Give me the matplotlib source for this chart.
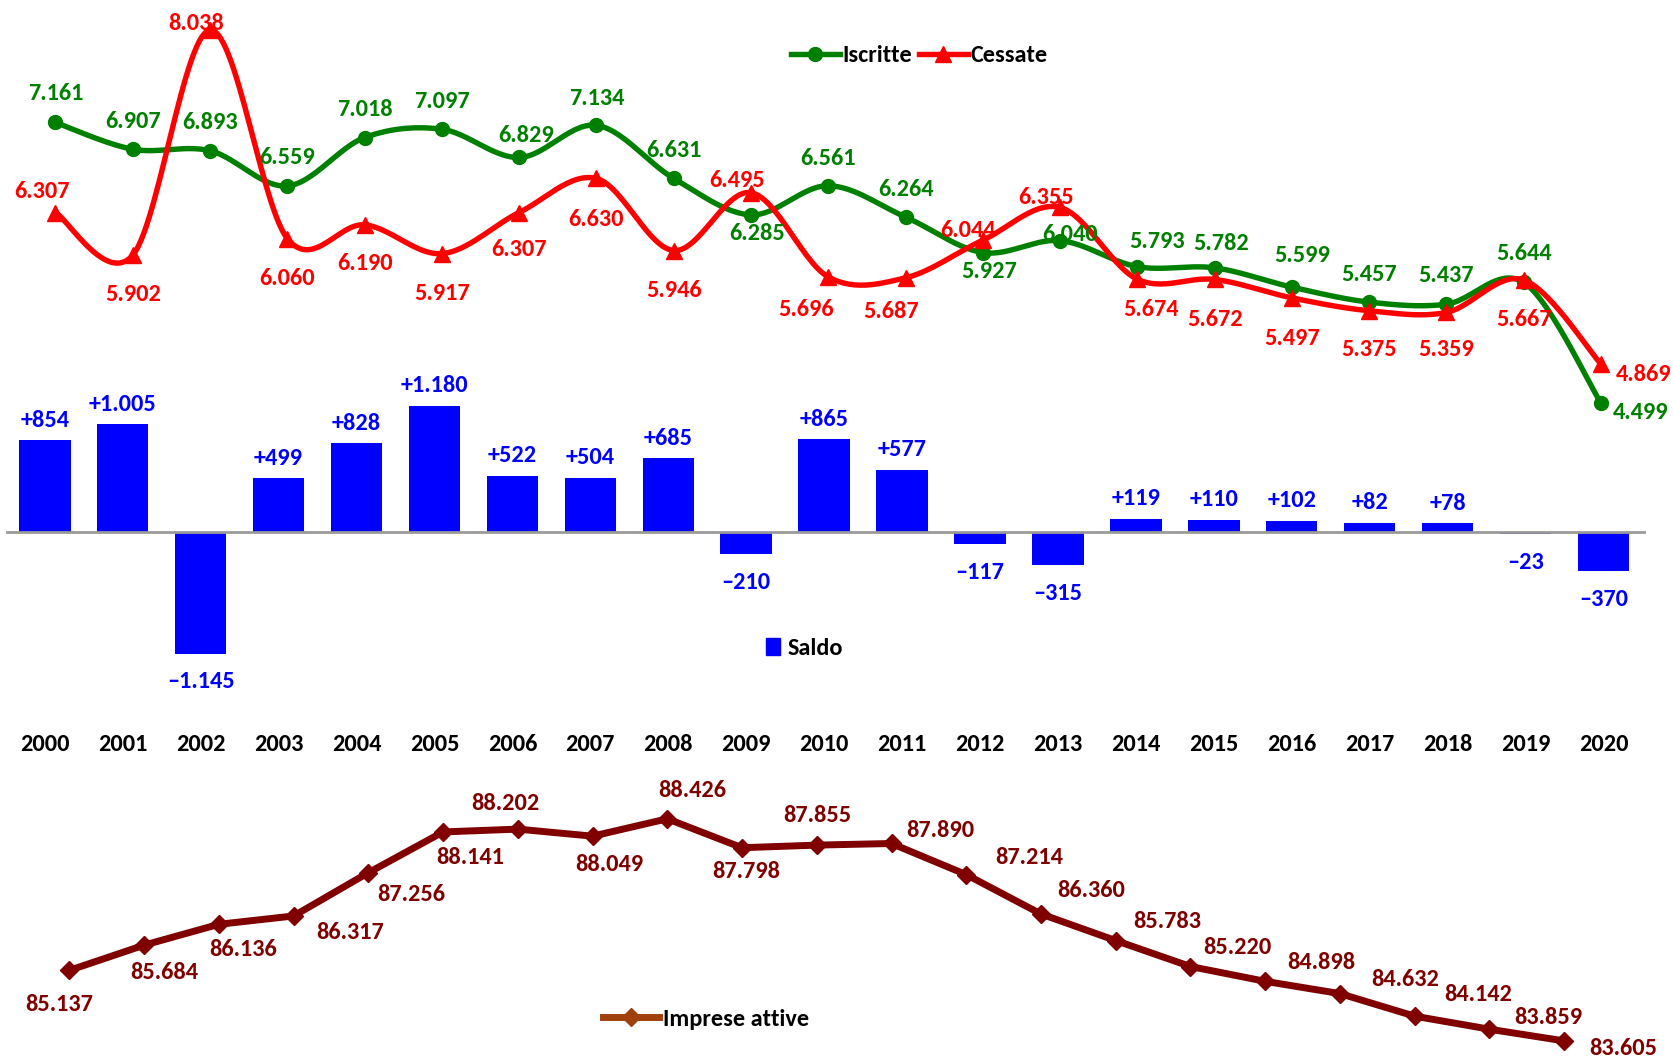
"""Iscritte, cessate, saldo e imprese attive 2000-2020."""
import numpy as np
import matplotlib
matplotlib.use('Agg')
import matplotlib.pyplot as plt
from matplotlib import font_manager
from matplotlib.lines import Line2D
from matplotlib.patches import Patch

years = [str(y) for y in range(2000, 2021)]
iscritte = [7161, 6907, 6893, 6559, 7018, 7097, 6829, 7134, 6631, 6285,
            6561, 6264, 5927, 6040, 5793, 5782, 5599, 5457, 5437, 5644, 4499]
cessate = [6307, 5902, 8038, 6060, 6190, 5917, 6307, 6630, 5946, 6495,
           5696, 5687, 6044, 6355, 5674, 5672, 5497, 5375, 5359, 5667, 4869]
saldo = [854, 1005, -1145, 499, 828, 1180, 522, 504, 685, -210,
         865, 577, -117, -315, 119, 110, 102, 82, 78, -23, -370]
imprese_attive = [85137, 85684, 86136, 86317, 87256, 88141, 88202, 88049, 88426, 87798,
                  87855, 87890, 87214, 86360, 85783, 85220, 84898, 84632, 84142, 83859, 83605]

# data label offsets in pixels (dx, dy), placed by hand as in the original
isc_off = [(0, 29), (0, 28), (0, 28), (0, 28), (0, 28), (0, 28), (7, 22), (0, 27), (0, 28),
           (6, -19), (0, 27), (0, 28), (6, -19), (10, 6), (20, 25), (7, 24), (10, 32),
           (0, 28), (0, 29), (0, 29), (40, -9)]
ces_off = [(-13, 21), (0, -39), (-14, 7), (0, -40), (0, -39), (0, -40), (0, -37), (0, -41),
           (0, -40), (-14, 12), (-22, -33), (-14, -34), (-15, 10), (-14, 10), (14, -30),
           (1, -40), (0, -41), (0, -39), (0, -37), (0, -40), (43, -10)]
imp_off = [(-10, -34), (20, -27), (24, -25), (56, -17), (43, -22), (27, -26), (-12, 26),
           (17, -28), (25, 28), (4, -24), (1, 30), (49, 13), (63, 17), (50, 23), (52, 19),
           (47, 19), (56, 19), (65, 14), (64, 22), (59, 12), (59, -8)]

GREEN = '#008000'
RED = '#FF0000'
BLUE = '#0000FF'
MAROON = '#800000'

# the original uses Calibri bold: pick the closest sans we have
fonts = font_manager.fontManager.ttflist
names = {f.name for f in fonts}
FS = 15
STRETCH = 'normal'
FAMILY = 'Roboto'
for cand, size in [('Carlito', 17.5), ('Liberation Sans Narrow', 18.5),
                   ('Roboto Condensed', 17), ('Open Sans Condensed', 16.5)]:
    if cand in names:
        FAMILY, FS = cand, size
        break
else:
    if any(f.name == 'DejaVu Sans' and f.stretch == 'condensed' for f in fonts):
        FAMILY, FS, STRETCH = 'DejaVu Sans', 14, 'condensed'
FONT = [FAMILY, 'DejaVu Sans']

plt.rcParams['font.family'] = FONT
plt.rcParams['font.weight'] = 'bold'
plt.rcParams['font.stretch'] = STRETCH


def fmt(v, sign=False):
    s = f'{abs(v):,}'.replace(',', '.')
    if sign:
        return ('+' if v > 0 else '\u2013') + s
    return s


def smooth(vals, steps=30):
    # Catmull-Rom bezier through all points (Excel "smoothed line")
    x = np.arange(len(vals), dtype=float)
    y = np.asarray(vals, dtype=float)
    pts = np.column_stack([np.r_[x[0], x, x[-1]], np.r_[y[0], y, y[-1]]])
    t = np.linspace(0, 1, steps)[:, None]
    out = []
    for i in range(len(vals) - 1):
        p0, p3 = pts[i + 1], pts[i + 2]
        c1 = p0 + (p3 - pts[i]) / 6
        c2 = p3 - (pts[i + 3] - p0) / 6
        seg = (1 - t) ** 3 * p0 + 3 * (1 - t) ** 2 * t * c1 + 3 * (1 - t) * t ** 2 * c2 + t ** 3 * p3
        out.append(seg if i == 0 else seg[1:])
    out = np.vstack(out)
    return out[:, 0], out[:, 1]


def label(ax, x, y, text, off, color):
    ax.annotate(text, (x, y), xytext=off, textcoords='offset pixels',
                ha='center', va='center', color=color, fontsize=FS, fontweight='bold')


fig = plt.figure(figsize=(16.74, 10.58), dpi=100)
idx = np.arange(len(years))

# --- middle: saldo ---
ax2 = fig.add_axes([0, 0.3195, 1, 0.3214])
ax2.patch.set_visible(False)
ax2.set_xlim(-0.575, 20.905)
ax2.set_ylim(-1763, 1420)
ax2.bar(idx, saldo, width=0.66, color=BLUE, zorder=2)
ax2.axhline(0, xmin=0.004, xmax=0.982, color='#9a9a9a', lw=2, zorder=3)
for i, v in enumerate(saldo):
    off = (0, 20) if v > 0 else (0, -28)
    label(ax2, i, v, fmt(v, sign=True), off, BLUE)
for s in ax2.spines.values():
    s.set_visible(False)
ax2.set_yticks([])
ax2.set_xticks(idx)
ax2.set_xticklabels(years, fontsize=FS, fontweight='bold')
ax2.tick_params(axis='x', length=0, pad=10)

# --- top: iscritte / cessate ---
ax1 = fig.add_axes([0, 0.5992, 1, 0.3989])
ax1.set_xlim(-0.718, 20.945)
ax1.set_ylim(4300, 8304)
ax1.axis('off')
for vals, col, mk, ms in [(iscritte, GREEN, 'o', 10), (cessate, RED, '^', 11)]:
    sx, sy = smooth(vals)
    ax1.plot(sx, sy, color=col, lw=3.9, solid_capstyle='round')
    ax1.plot(idx, vals, ls='none', marker=mk, ms=ms, color=col)
for i in idx:
    label(ax1, i, iscritte[i], fmt(iscritte[i]), isc_off[i], GREEN)
    label(ax1, i, cessate[i], fmt(cessate[i]), ces_off[i], RED)

# --- bottom: imprese attive ---
ax3 = fig.add_axes([0, 0, 1, 0.2722])
ax3.set_xlim(-0.929, 21.47)
ax3.set_ylim(83234, 89485)
ax3.axis('off')
ax3.plot(idx, imprese_attive, color=MAROON, lw=5, marker='D', ms=9.5)
for i in idx:
    label(ax3, i, imprese_attive[i], fmt(imprese_attive[i]), imp_off[i], MAROON)

# --- legends ---
lg_kw = dict(loc='center', frameon=False,
             prop={'family': FONT, 'weight': 'bold', 'size': FS, 'stretch': STRETCH})
fig.legend([Line2D([], [], color=GREEN, lw=3.9, marker='o', ms=10),
            Line2D([], [], color=RED, lw=3.9, marker='^', ms=11)],
           ['Iscritte', 'Cessate'], ncol=2, bbox_to_anchor=(0.549, 0.9475),
           handlelength=2.0, handletextpad=0.1, columnspacing=0.3, **lg_kw)
fig.legend([Patch(color=BLUE)], ['Saldo'], bbox_to_anchor=(0.4806, 0.3875),
           handlelength=0.55, handleheight=0.7, handletextpad=0.3, **lg_kw)
fig.legend([Line2D([], [], color='#A0410D', lw=5, marker='D', ms=9.5)], ['Imprese attive'],
           bbox_to_anchor=(0.4218, 0.0364), handlelength=2.3, handletextpad=0.2, **lg_kw)

fig.savefig('out.png', dpi=100)
